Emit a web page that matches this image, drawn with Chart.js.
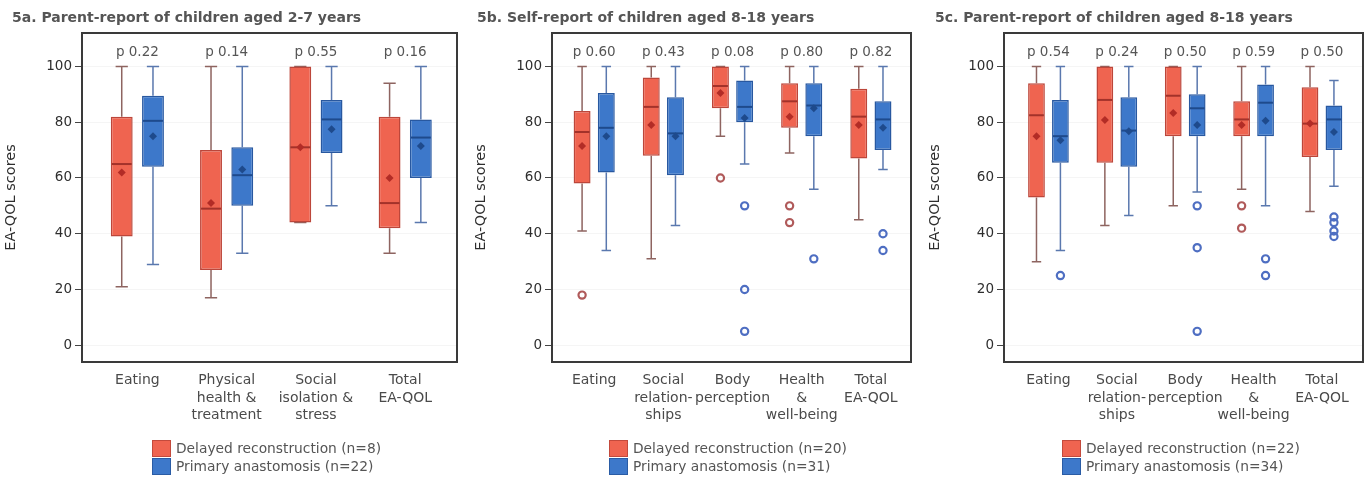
<!DOCTYPE html>
<html><head><meta charset="utf-8">
<script src="https://cdn.jsdelivr.net/npm/chart.js@4"></script>
<style>
body{margin:0;width:1371px;height:479px;position:relative;background:#fff;overflow:hidden;font-family:'DejaVu Sans',sans-serif;}
canvas{position:absolute;top:0;}
.title{position:absolute;top:9px;font-weight:bold;font-size:14px;color:#555;white-space:nowrap;}
.legend{position:absolute;top:439px;font-size:13.8px;color:#555;white-space:nowrap;}
.legend .row{display:flex;align-items:center;height:18px;}
.legend .sw{width:19px;height:17px;margin-right:5px;box-sizing:border-box;border:1.5px solid;}
</style></head>
<body>
<canvas id="cA" width="460" height="479" style="left:0px"></canvas>
<canvas id="cB" width="450" height="479" style="left:465px"></canvas>
<canvas id="cC" width="448" height="479" style="left:923px"></canvas>
<div class="title" style="left:12px">5a. Parent-report of children aged 2-7 years</div>
<div class="title" style="left:477px">5b. Self-report of children aged 8-18 years</div>
<div class="title" style="left:935px">5c. Parent-report of children aged 8-18 years</div>
<div class="legend" style="left:152px"><div class="row"><span class="sw" style="background:#EF6450;border-color:#C34A3C"></span>Delayed reconstruction (n=8)</div><div class="row"><span class="sw" style="background:#3D78CA;border-color:#2A5CA5"></span>Primary anastomosis (n=22)</div></div>
<div class="legend" style="left:609px"><div class="row"><span class="sw" style="background:#EF6450;border-color:#C34A3C"></span>Delayed reconstruction (n=20)</div><div class="row"><span class="sw" style="background:#3D78CA;border-color:#2A5CA5"></span>Primary anastomosis (n=31)</div></div>
<div class="legend" style="left:1062px"><div class="row"><span class="sw" style="background:#EF6450;border-color:#C34A3C"></span>Delayed reconstruction (n=22)</div><div class="row"><span class="sw" style="background:#3D78CA;border-color:#2A5CA5"></span>Primary anastomosis (n=34)</div></div>
<script>
// ---------- Panel 5a ----------
const catsA = ['Eating', ['Physical','health &','treatment'], ['Social','isolation &','stress'], ['Total','EA-QOL']];
const pA = ['p 0.22','p 0.14','p 0.55','p 0.16'];
const aDelMin  = [21, 17, 44, 33];
const aDelQ1   = [39, 27, 44, 42];
const aDelMed  = [65, 49, 71, 51];
const aDelQ3   = [82, 70, 100, 82];
const aDelMax  = [100, 100, 100, 94];
const aDelMean = [62, 51, 71, 60];
const aDelOut  = [[], [], [], []];
const aPriMin  = [29, 33, 50, 44];
const aPriQ1   = [64, 50, 69, 60];
const aPriMed  = [80.5, 61, 81, 74.5];
const aPriQ3   = [89.5, 71, 88, 81];
const aPriMax  = [100, 100, 100, 100];
const aPriMean = [75, 63, 77.5, 71.5];
const aPriOut  = [[], [], [], []];

// ---------- Panel 5b ----------
const catsB = ['Eating', ['Social','relation-','ships'], ['Body','perception'], ['Health','&','well-being'], ['Total','EA-QOL']];
const pB = ['p 0.60','p 0.43','p 0.08','p 0.80','p 0.82'];
const bDelMin  = [41, 31, 75, 69, 45];
const bDelQ1   = [58, 68, 85, 78, 67];
const bDelMed  = [76.5, 85.5, 93, 87.5, 82];
const bDelQ3   = [84, 96, 100, 94, 92];
const bDelMax  = [100, 100, 100, 100, 100];
const bDelMean = [71.5, 79, 90.5, 82, 79];
const bDelOut  = [[18], [], [60], [50, 44], []];
const bPriMin  = [34, 43, 65, 56, 63];
const bPriQ1   = [62, 61, 80, 75, 70];
const bPriMed  = [78, 76, 85.5, 86, 81];
const bPriQ3   = [90.5, 89, 95, 94, 87.5];
const bPriMax  = [100, 100, 100, 100, 100];
const bPriMean = [75, 75, 81.5, 85, 78];
const bPriOut  = [[], [], [50, 20, 5], [31], [40, 34]];

// ---------- Panel 5c ----------
const catsC = ['Eating', ['Social','relation-','ships'], ['Body','perception'], ['Health','&','well-being'], ['Total','EA-QOL']];
const pC = ['p 0.54','p 0.24','p 0.50','p 0.59','p 0.50'];
const cDelMin  = [30, 43, 50, 56, 48];
const cDelQ1   = [53, 65.5, 75, 75, 67.5];
const cDelMed  = [82.5, 88, 89.5, 81, 79.5];
const cDelQ3   = [94, 100, 100, 87.5, 92.5];
const cDelMax  = [100, 100, 100, 100, 100];
const cDelMean = [75, 80.8, 83.3, 79, 79.5];
const cDelOut  = [[], [], [], [50, 42], []];
const cPriMin  = [34, 46.5, 55, 50, 57];
const cPriQ1   = [65.5, 64, 75, 75, 70];
const cPriMed  = [75, 77, 85, 87, 81];
const cPriQ3   = [88, 89, 90, 93.5, 86];
const cPriMax  = [100, 100, 100, 100, 95];
const cPriMean = [73.5, 76.8, 79, 80.5, 76.5];
const cPriOut  = [[25], [], [50, 35, 5], [31, 25], [46, 44, 41, 39]];

const yTickValues = [0, 20, 40, 60, 80, 100];

const RED = {fill:'#EF6450', border:'#BC463A', med:'#A3322A', mean:'#B22C26', whisker:'#8E6460', out:'#B05A5A'};
const BLUE = {fill:'#3D78CA', border:'#2858A0', med:'#1E4A8C', mean:'#1E4A8C', whisker:'#5A78AE', out:'#4E6EC2'};

Chart.defaults.font.family = "'DejaVu Sans', sans-serif";

function boxPlugin(series, pLabels) {
  return {
    id: 'boxExtras',
    beforeDatasetsDraw(chart) {
      const {ctx} = chart; const y = chart.scales.y;
      series.forEach((s, d) => {
        chart.getDatasetMeta(d).data.forEach((el, i) => {
          const cx = el.x, cap = el.width * 0.28;
          const yMax = y.getPixelForValue(s.max[i]), yMin = y.getPixelForValue(s.min[i]);
          ctx.save();
          ctx.strokeStyle = s.col.whisker; ctx.lineWidth = 1.5;
          ctx.beginPath();
          ctx.moveTo(cx, yMax); ctx.lineTo(cx, y.getPixelForValue(s.q3[i]));
          ctx.moveTo(cx, y.getPixelForValue(s.q1[i])); ctx.lineTo(cx, yMin);
          ctx.moveTo(cx - cap, yMax); ctx.lineTo(cx + cap, yMax);
          ctx.moveTo(cx - cap, yMin); ctx.lineTo(cx + cap, yMin);
          ctx.stroke();
          ctx.restore();
        });
      });
    },
    afterDatasetsDraw(chart) {
      const {ctx} = chart; const y = chart.scales.y, x = chart.scales.x;
      series.forEach((s, d) => {
        chart.getDatasetMeta(d).data.forEach((el, i) => {
          const cx = el.x, hw = el.width / 2;
          ctx.save();
          const ym = y.getPixelForValue(s.med[i]);
          ctx.strokeStyle = s.col.med; ctx.lineWidth = 2;
          ctx.beginPath(); ctx.moveTo(cx - hw + 1, ym); ctx.lineTo(cx + hw - 1, ym); ctx.stroke();
          const yv = y.getPixelForValue(s.mean[i]);
          ctx.fillStyle = s.col.mean;
          ctx.beginPath(); ctx.moveTo(cx, yv - 4); ctx.lineTo(cx + 4, yv); ctx.lineTo(cx, yv + 4); ctx.lineTo(cx - 4, yv); ctx.closePath(); ctx.fill();
          ctx.strokeStyle = s.col.out; ctx.lineWidth = 2.2;
          s.out[i].forEach(v => {
            ctx.beginPath(); ctx.arc(cx, y.getPixelForValue(v), 3.6, 0, Math.PI * 2); ctx.stroke();
          });
          ctx.restore();
        });
      });
      ctx.save();
      ctx.fillStyle = '#555'; ctx.font = "13.5px 'DejaVu Sans', sans-serif";
      ctx.textAlign = 'center'; ctx.textBaseline = 'middle';
      pLabels.forEach((t, i) => ctx.fillText(t, x.getPixelForValue(i), y.getPixelForValue(105)));
      ctx.restore();
    },
    afterDraw(chart) {
      const {ctx, chartArea: a} = chart;
      ctx.save(); ctx.strokeStyle = '#3a3a3a'; ctx.lineWidth = 2;
      ctx.strokeRect(a.left, a.top, a.right - a.left, a.bottom - a.top);
      ctx.restore();
    }
  };
}

function makeChart(id, cats, pLabels, del, pri, L) {
  const toBars = s => s.q1.map((v, i) => ({x: i, y: [s.q1[i], s.q3[i]]}));
  const ds = (label, s) => ({
    label, data: toBars(s), backgroundColor: s.col.fill, borderColor: s.col.border,
    borderWidth: 1.5, borderSkipped: false, categoryPercentage: 0.7, barPercentage: 0.7
  });
  return new Chart(document.getElementById(id), {
    type: 'bar',
    data: { datasets: [ds('Delayed reconstruction', del), ds('Primary anastomosis', pri)] },
    options: {
      responsive: false, animation: false, events: [],
      layout: { padding: { left: L.pl, right: L.pr, top: 33, bottom: 0 } },
      plugins: { legend: { display: false }, tooltip: { enabled: false }, title: { display: false } },
      scales: {
        x: {
          type: 'linear', offset: false, min: L.xmin, max: L.xmax,
          grid: { display: false, drawTicks: false }, border: { display: false },
          ticks: {
            stepSize: 1, includeBounds: false, autoSkip: false, maxRotation: 0, padding: 10,
            color: '#4a4a4a', font: { size: 14, lineHeight: 1.25 },
            callback: v => (Number.isInteger(v) && cats[v] !== undefined) ? cats[v] : ''
          },
          afterFit: s => { s.height = 117; }
        },
        y: {
          type: 'linear', min: -6, max: 112, beginAtZero: false,
          grid: { color: 'rgba(0,0,0,0.04)', tickColor: '#444', tickLength: 7, lineWidth: 1 },
          border: { display: false },
          afterBuildTicks: s => { s.ticks = yTickValues.map(v => ({ value: v })); },
          ticks: { padding: 3, color: '#2e2e2e', font: { size: 13.5 } },
          title: { display: true, text: 'EA-QOL scores', color: '#2e2e2e', font: { size: 14.5 }, padding: 0 },
          afterFit: s => { s.width = L.yw; }
        }
      }
    },
    plugins: [boxPlugin([del, pri], pLabels)]
  });
}

makeChart('cA', catsA, pA,
  {min:aDelMin,q1:aDelQ1,med:aDelMed,q3:aDelQ3,max:aDelMax,mean:aDelMean,out:aDelOut,col:RED},
  {min:aPriMin,q1:aPriQ1,med:aPriMed,q3:aPriQ3,max:aPriMax,mean:aPriMean,out:aPriOut,col:BLUE},
  {pl:3, pr:3, yw:79, xmin:-0.62, xmax:3.58});
makeChart('cB', catsB, pB,
  {min:bDelMin,q1:bDelQ1,med:bDelMed,q3:bDelQ3,max:bDelMax,mean:bDelMean,out:bDelOut,col:RED},
  {min:bPriMin,q1:bPriQ1,med:bPriMed,q3:bPriQ3,max:bPriMax,mean:bPriMean,out:bPriOut,col:BLUE},
  {pl:8, pr:4, yw:79, xmin:-0.61, xmax:4.58});
makeChart('cC', catsC, pC,
  {min:cDelMin,q1:cDelQ1,med:cDelMed,q3:cDelQ3,max:cDelMax,mean:cDelMean,out:cDelOut,col:RED},
  {min:cPriMin,q1:cPriQ1,med:cPriMed,q3:cPriQ3,max:cPriMax,mean:cPriMean,out:cPriOut,col:BLUE},
  {pl:4, pr:8, yw:77, xmin:-0.65, xmax:4.6});
</script>
</body></html>
